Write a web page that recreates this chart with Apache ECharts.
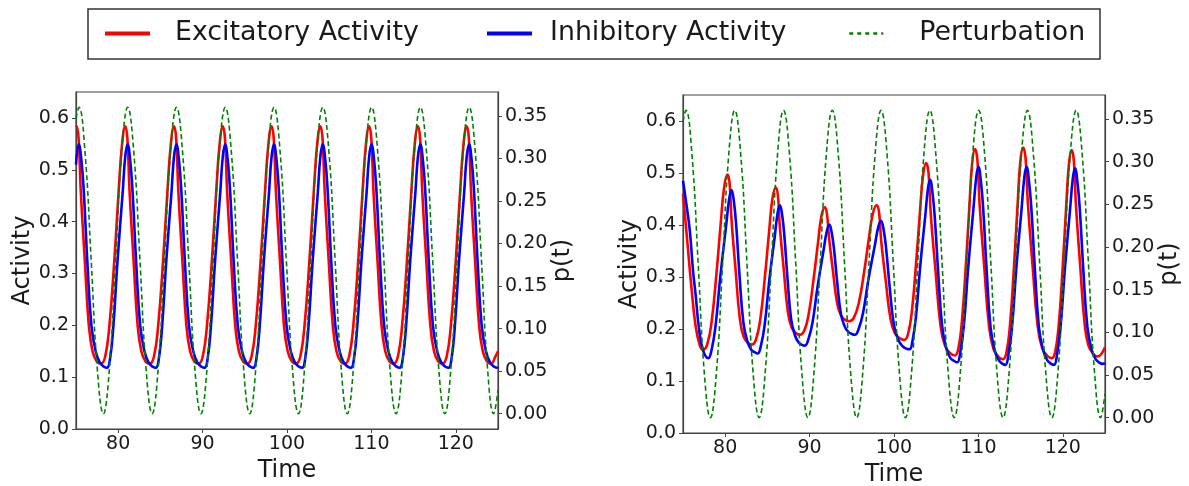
<!DOCTYPE html>
<html>
<head>
<meta charset="utf-8">
<script src="https://cdn.jsdelivr.net/npm/echarts@6/dist/echarts.min.js"></script>
<style>
html,body{margin:0;padding:0;background:#fff;}
#chart{width:1189px;height:486px;}
</style>
</head>
<body>
<div id="chart"></div>
<script>
// ---- tick labels ----
const timeTicks = [80, 90, 100, 110, 120];
const activityTicks = [0, 0.1, 0.2, 0.3, 0.4, 0.5, 0.6];
const pTicks = [0, 0.05, 0.1, 0.15, 0.2, 0.25, 0.3, 0.35];
const seriesNames = ['Excitatory Activity', 'Inhibitory Activity', 'Perturbation'];

// ---- perturbation p(t) (same in both panels) : [time, value] ----
const perturbation = [
[75,0.347],
[75.35,0.36],[76.07,0.307],[76.80,0.18],[77.52,0.053],[78.24,0.0],[78.96,0.053],[79.69,0.18],[80.41,0.307],
[81.13,0.36],[81.85,0.307],[82.58,0.18],[83.30,0.053],[84.02,0.0],[84.74,0.053],[85.47,0.18],[86.19,0.307],
[86.91,0.36],[87.63,0.307],[88.36,0.18],[89.08,0.053],[89.80,0.0],[90.52,0.053],[91.25,0.18],[91.97,0.307],
[92.69,0.36],[93.41,0.307],[94.14,0.18],[94.86,0.053],[95.58,0.0],[96.30,0.053],[97.03,0.18],[97.75,0.307],
[98.47,0.36],[99.19,0.307],[99.92,0.18],[100.64,0.053],[101.36,0.0],[102.08,0.053],[102.81,0.18],[103.53,0.307],
[104.25,0.36],[104.97,0.307],[105.70,0.18],[106.42,0.053],[107.14,0.0],[107.86,0.053],[108.59,0.18],[109.31,0.307],
[110.03,0.36],[110.75,0.307],[111.48,0.18],[112.20,0.053],[112.92,0.0],[113.64,0.053],[114.37,0.18],[115.09,0.307],
[115.81,0.36],[116.53,0.307],[117.26,0.18],[117.98,0.053],[118.70,0.0],[119.42,0.053],[120.15,0.18],[120.87,0.307],
[121.59,0.36],[122.31,0.307],[123.04,0.18],[123.76,0.053],[124.48,0.0],[125,0.028]
];

// ---- left panel ----
const excitatoryLeft = [
[75,0.582],
[75.06,0.584],[75.31,0.56],[75.56,0.46],[76.06,0.32],[76.52,0.2],[76.96,0.15],[77.46,0.13],[77.94,0.126],[78.46,0.14],[78.96,0.20],[79.56,0.33],[80.06,0.46],[80.46,0.55],
[80.84,0.584],[81.09,0.56],[81.34,0.46],[81.84,0.32],[82.30,0.2],[82.74,0.15],[83.24,0.13],[83.72,0.126],[84.24,0.14],[84.74,0.20],[85.34,0.33],[85.84,0.46],[86.24,0.55],
[86.62,0.584],[86.87,0.56],[87.12,0.46],[87.62,0.32],[88.08,0.2],[88.52,0.15],[89.02,0.13],[89.50,0.126],[90.02,0.14],[90.52,0.20],[91.12,0.33],[91.62,0.46],[92.02,0.55],
[92.40,0.584],[92.65,0.56],[92.90,0.46],[93.40,0.32],[93.86,0.2],[94.30,0.15],[94.80,0.13],[95.28,0.126],[95.80,0.14],[96.30,0.20],[96.90,0.33],[97.40,0.46],[97.80,0.55],
[98.18,0.584],[98.43,0.56],[98.68,0.46],[99.18,0.32],[99.64,0.2],[100.08,0.15],[100.58,0.13],[101.06,0.126],[101.58,0.14],[102.08,0.20],[102.68,0.33],[103.18,0.46],[103.58,0.55],
[103.96,0.584],[104.21,0.56],[104.46,0.46],[104.96,0.32],[105.42,0.2],[105.86,0.15],[106.36,0.13],[106.84,0.126],[107.36,0.14],[107.86,0.20],[108.46,0.33],[108.96,0.46],[109.36,0.55],
[109.74,0.584],[109.99,0.56],[110.24,0.46],[110.74,0.32],[111.20,0.2],[111.64,0.15],[112.14,0.13],[112.62,0.126],[113.14,0.14],[113.64,0.20],[114.24,0.33],[114.74,0.46],[115.14,0.55],
[115.52,0.584],[115.77,0.56],[116.02,0.46],[116.52,0.32],[116.98,0.2],[117.42,0.15],[117.92,0.13],[118.40,0.126],[118.92,0.14],[119.42,0.20],[120.02,0.33],[120.52,0.46],[120.92,0.55],
[121.30,0.584],[121.55,0.56],[121.80,0.46],[122.30,0.32],[122.76,0.2],[123.20,0.15],[123.70,0.13],[124.18,0.126],[124.70,0.14],[125,0.15]
];
const inhibitoryLeft = [
[75,0.51],
[75.33,0.549],[75.63,0.52],[75.93,0.456],[76.33,0.327],[76.83,0.199],[77.33,0.15],[77.83,0.128],[78.33,0.12],[78.67,0.118],[79.03,0.135],[79.43,0.199],[79.93,0.327],[80.53,0.456],[80.83,0.525],
[81.11,0.549],[81.41,0.52],[81.71,0.456],[82.11,0.327],[82.61,0.199],[83.11,0.15],[83.61,0.128],[84.11,0.12],[84.45,0.118],[84.81,0.135],[85.21,0.199],[85.71,0.327],[86.31,0.456],[86.61,0.525],
[86.89,0.549],[87.19,0.52],[87.49,0.456],[87.89,0.327],[88.39,0.199],[88.89,0.15],[89.39,0.128],[89.89,0.12],[90.23,0.118],[90.59,0.135],[90.99,0.199],[91.49,0.327],[92.09,0.456],[92.39,0.525],
[92.67,0.549],[92.97,0.52],[93.27,0.456],[93.67,0.327],[94.17,0.199],[94.67,0.15],[95.17,0.128],[95.67,0.12],[96.01,0.118],[96.37,0.135],[96.77,0.199],[97.27,0.327],[97.87,0.456],[98.17,0.525],
[98.45,0.549],[98.75,0.52],[99.05,0.456],[99.45,0.327],[99.95,0.199],[100.45,0.15],[100.95,0.128],[101.45,0.12],[101.79,0.118],[102.15,0.135],[102.55,0.199],[103.05,0.327],[103.65,0.456],[103.95,0.525],
[104.23,0.549],[104.53,0.52],[104.83,0.456],[105.23,0.327],[105.73,0.199],[106.23,0.15],[106.73,0.128],[107.23,0.12],[107.57,0.118],[107.93,0.135],[108.33,0.199],[108.83,0.327],[109.43,0.456],[109.73,0.525],
[110.01,0.549],[110.31,0.52],[110.61,0.456],[111.01,0.327],[111.51,0.199],[112.01,0.15],[112.51,0.128],[113.01,0.12],[113.35,0.118],[113.71,0.135],[114.11,0.199],[114.61,0.327],[115.21,0.456],[115.51,0.525],
[115.79,0.549],[116.09,0.52],[116.39,0.456],[116.79,0.327],[117.29,0.199],[117.79,0.15],[118.29,0.128],[118.79,0.12],[119.13,0.118],[119.49,0.135],[119.89,0.199],[120.39,0.327],[120.99,0.456],[121.29,0.525],
[121.57,0.549],[121.87,0.52],[122.17,0.456],[122.57,0.327],[123.07,0.199],[123.57,0.15],[124.07,0.128],[124.57,0.12],[124.91,0.118],[125,0.12]
];

// ---- right panel ----
const excitatoryRight = [
[75,0.46],[75.5,0.37],[76.0,0.28],[76.5,0.205],[77.0,0.168],[77.37,0.16],
[77.86,0.17],[78.39,0.214],[78.97,0.308],[79.47,0.403],[79.88,0.473],[80.28,0.497],
[80.52,0.48],[80.75,0.41],[81.23,0.314],[81.72,0.222],[82.17,0.186],[82.72,0.173],[83.15,0.17],
[83.63,0.179],[84.15,0.218],[84.72,0.303],[85.20,0.387],[85.60,0.451],[86.0,0.472],
[86.24,0.457],[86.47,0.397],[86.94,0.314],[87.42,0.234],[87.87,0.203],[88.41,0.192],[88.84,0.189],
[89.35,0.196],[89.88,0.228],[90.48,0.297],[90.99,0.365],[91.40,0.417],[91.82,0.434],
[92.06,0.421],[92.30,0.376],[92.77,0.311],[93.26,0.25],[93.72,0.226],[94.27,0.217],[94.7,0.215],
[95.25,0.222],[95.84,0.251],[96.49,0.313],[97.04,0.376],[97.50,0.422],[97.95,0.438],
[98.23,0.424],[98.49,0.368],[99.02,0.293],[99.58,0.22],[100.10,0.192],[100.71,0.182],[101.2,0.179],
[101.64,0.189],[102.11,0.233],[102.63,0.329],[103.07,0.424],[103.44,0.495],[103.8,0.519],
[104.09,0.5],[104.36,0.42],[104.92,0.312],[105.5,0.208],[106.04,0.168],[106.69,0.153],[107.2,0.149],
[107.61,0.161],[108.04,0.213],[108.52,0.324],[108.93,0.435],[109.26,0.518],[109.6,0.546],
[109.88,0.525],[110.14,0.44],[110.69,0.32],[111.25,0.207],[111.78,0.162],[112.41,0.146],[112.9,0.142],
[113.31,0.154],[113.74,0.207],[114.22,0.321],[114.63,0.435],[114.96,0.521],[115.3,0.549],
[115.59,0.528],[115.86,0.442],[116.42,0.322],[117.0,0.209],[117.54,0.164],[118.19,0.148],[118.7,0.144],
[119.10,0.156],[119.52,0.208],[119.99,0.32],[120.39,0.432],[120.72,0.516],[121.05,0.544],
[121.31,0.523],[121.55,0.44],[122.06,0.322],[122.58,0.211],[123.06,0.167],[123.69,0.151],[124.1,0.147],
[125,0.165]
];
const inhibitoryRight = [
[75,0.485],[75.4,0.44],[75.8,0.39],[76.2,0.31],[76.5,0.265],[76.9,0.2],[77.4,0.158],[78.0,0.144],
[78.39,0.16],[78.85,0.205],[79.43,0.302],[80.09,0.396],[80.48,0.451],[80.75,0.467],
[81.03,0.445],[81.31,0.398],[81.68,0.307],[82.15,0.213],[82.61,0.177],[83.08,0.16],[83.54,0.155],[83.85,0.153],
[84.22,0.167],[84.67,0.207],[85.22,0.293],[85.85,0.375],[86.22,0.424],[86.48,0.438],
[86.75,0.419],[87.01,0.379],[87.37,0.3],[87.81,0.219],[88.26,0.188],[88.70,0.174],[89.14,0.169],[89.44,0.168],
[89.85,0.18],[90.34,0.212],[90.95,0.282],[91.64,0.35],[92.05,0.389],[92.34,0.401],
[92.61,0.386],[92.89,0.354],[93.25,0.293],[93.71,0.229],[94.16,0.205],[94.62,0.194],[95.08,0.19],[95.38,0.189],
[95.81,0.2],[96.33,0.231],[96.98,0.296],[97.72,0.36],[98.15,0.397],[98.46,0.408],
[98.77,0.391],[99.07,0.354],[99.48,0.282],[99.99,0.208],[100.49,0.18],[101.0,0.167],[101.51,0.162],[101.85,0.161],
[102.19,0.177],[102.60,0.223],[103.11,0.321],[103.69,0.415],[104.03,0.471],[104.27,0.487],
[104.56,0.462],[104.85,0.41],[105.24,0.308],[105.72,0.203],[106.21,0.162],[106.69,0.144],[107.18,0.138],[107.5,0.136],
[107.85,0.155],[108.28,0.207],[108.8,0.32],[109.4,0.429],[109.75,0.493],[110.0,0.512],
[110.29,0.485],[110.58,0.428],[110.96,0.318],[111.44,0.203],[111.92,0.16],[112.4,0.14],[112.88,0.133],[113.2,0.131],
[113.55,0.15],[113.98,0.203],[114.5,0.318],[115.1,0.428],[115.45,0.493],[115.7,0.512],
[115.99,0.485],[116.29,0.428],[116.68,0.318],[117.17,0.203],[117.66,0.16],[118.15,0.14],[118.63,0.133],[118.96,0.131],
[119.31,0.15],[119.73,0.203],[120.25,0.316],[120.84,0.426],[121.19,0.49],[121.44,0.509],
[121.73,0.483],[122.03,0.426],[122.42,0.317],[122.91,0.204],[123.4,0.161],[123.89,0.142],[124.37,0.135],[124.7,0.133],
[125,0.134]
];

// ---- styling / layout ----
const FONT = 'DejaVu Sans';
const TXT = '#1a1a1a';
const AX = '#444';
const C_RED = '#ff0000', C_BLUE = '#0000ff', C_GREEN = '#008000';

function near(list, v) { return list.some(t => Math.abs(t - v) < 1e-6); }

function xAxisCfg(gi) {
  return {
    type: 'value', gridIndex: gi, min: 75, max: 125,
    name: 'Time', nameLocation: 'middle', nameGap: 26,
    nameTextStyle: { fontFamily: FONT, fontSize: 24, color: TXT },
    axisLine: { show: true, onZero: false, lineStyle: { color: AX, width: 1.2 } },
    axisTick: { show: true, length: 4, customValues: timeTicks, lineStyle: { color: AX, width: 1 } },
    axisLabel: { customValues: timeTicks, margin: 6, fontFamily: FONT, fontSize: 19, color: TXT,
      formatter: v => near(timeTicks, v) ? String(v) : '' },
    splitLine: { show: false }
  };
}
function yLeftCfg(gi) {
  return {
    type: 'value', gridIndex: gi, position: 'left', min: 0, max: 0.65,
    name: 'Activity', nameLocation: 'middle', nameGap: 34, nameRotate: 90,
    nameTextStyle: { fontFamily: FONT, fontSize: 24, color: TXT },
    axisLine: { show: true, onZero: false, lineStyle: { color: AX, width: 1.2 } },
    axisTick: { show: true, length: 4, customValues: activityTicks, lineStyle: { color: AX, width: 1 } },
    axisLabel: { customValues: activityTicks, margin: 7, fontFamily: FONT, fontSize: 19, color: TXT,
      formatter: v => near(activityTicks, v) ? v.toFixed(1) : '' },
    splitLine: { show: false }
  };
}
function yRightCfg(gi) {
  return {
    type: 'value', gridIndex: gi, position: 'right', min: -0.018, max: 0.378,
    name: 'p(t)', nameLocation: 'middle', nameGap: 50, nameRotate: 90,
    nameTextStyle: { fontFamily: FONT, fontSize: 24, color: TXT },
    axisLine: { show: true, onZero: false, lineStyle: { color: AX, width: 1.2 } },
    axisTick: { show: true, length: 4, customValues: pTicks, lineStyle: { color: AX, width: 1 } },
    axisLabel: { customValues: pTicks, margin: 7, fontFamily: FONT, fontSize: 19, color: TXT,
      formatter: v => near(pTicks, v) ? v.toFixed(2) : '' },
    splitLine: { show: false }
  };
}
function lineSeries(name, data, xi, yi, color, width, dashed, z) {
  return {
    name, type: 'line', data, xAxisIndex: xi, yAxisIndex: yi,
    showSymbol: false, symbol: 'none', smooth: 0.45, z,
    lineStyle: { color, width, type: dashed ? [5, 3] : 'solid' },
    itemStyle: { color },
    emphasis: { disabled: true }, silent: true
  };
}
function legendCfg(name, left, w, lw, color, dashed, pad) {
  return {
    data: [name], left, top: 20, padding: 0, itemWidth: w, itemHeight: 14,
    selectedMode: false,
    itemStyle: { color: 'transparent', borderColor: 'transparent', borderWidth: 0, opacity: 0 },
    lineStyle: { width: lw, color, type: dashed ? [4, 4] : 'solid', opacity: 1 },
    textStyle: { fontFamily: FONT, fontSize: 26.8, color: TXT, padding: [0, 0, 0, pad] }
  };
}

const chart = echarts.init(document.getElementById('chart'), null, { renderer: 'canvas' });
chart.setOption({
  animation: false,
  backgroundColor: '#ffffff',
  graphic: [{
    type: 'rect', z: -1,
    shape: { x: 88, y: 9, width: 1012, height: 50 },
    style: { fill: '#fff', stroke: '#333', lineWidth: 1.5 }
  }],
  legend: [
    legendCfg(seriesNames[0], 103, 45, 4, C_RED, false, 20),
    legendCfg(seriesNames[1], 485, 45, 4, C_BLUE, false, 13),
    legendCfg(seriesNames[2], 848, 34, 2.5, C_GREEN, true, 31)
  ],
  grid: [
    { left: 76, top: 92, width: 422, height: 337, outerBoundsMode: 'none', containLabel: false,
      show: true, borderColor: AX, borderWidth: 1.2, backgroundColor: 'transparent' },
    { left: 683, top: 95, width: 422, height: 338, outerBoundsMode: 'none', containLabel: false,
      show: true, borderColor: AX, borderWidth: 1.2, backgroundColor: 'transparent' }
  ],
  xAxis: [xAxisCfg(0), xAxisCfg(1)],
  yAxis: [yLeftCfg(0), yRightCfg(0), yLeftCfg(1), yRightCfg(1)],
  series: [
    lineSeries(seriesNames[0], excitatoryLeft, 0, 0, C_RED, 2.6, false, 2),
    lineSeries(seriesNames[1], inhibitoryLeft, 0, 0, C_BLUE, 2.6, false, 3),
    lineSeries(seriesNames[2], perturbation, 0, 1, C_GREEN, 1.6, true, 4),
    lineSeries(seriesNames[0], excitatoryRight, 1, 2, C_RED, 2.6, false, 2),
    lineSeries(seriesNames[1], inhibitoryRight, 1, 2, C_BLUE, 2.6, false, 3),
    lineSeries(seriesNames[2], perturbation, 1, 3, C_GREEN, 1.6, true, 4)
  ]
});
</script>
</body>
</html>
